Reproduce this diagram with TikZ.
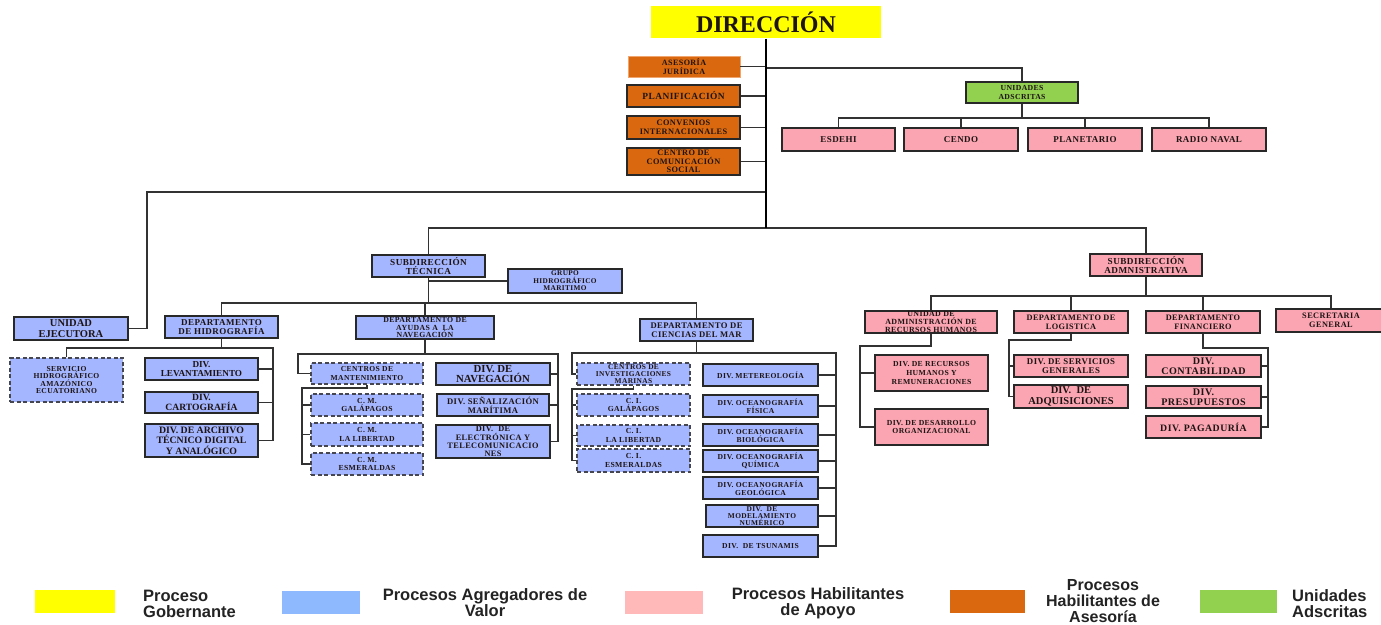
\documentclass[tikz,border=0pt]{standalone}
\usepackage{fontspec}
\setmainfont{Liberation Serif}
\newfontfamily\boxserif[LetterSpace=5]{Liberation Serif}
\newfontfamily\legfont{Liberation Sans}
\definecolor{ylw}{RGB}{255,255,0}
\definecolor{orf}{RGB}{217,104,14}
\definecolor{orb}{RGB}{240,165,110}
\definecolor{grf}{RGB}{146,208,80}
\definecolor{pkf}{RGB}{250,165,177}
\definecolor{blf}{RGB}{164,182,255}
\definecolor{lgbl}{RGB}{142,185,255}
\definecolor{lgpk}{RGB}{255,185,185}
\definecolor{bord}{RGB}{40,40,40}
\definecolor{bordg}{RGB}{70,70,80}
\definecolor{lineg}{RGB}{50,50,50}
\definecolor{txt}{RGB}{30,20,20}
\definecolor{legt}{RGB}{35,35,35}
\tikzset{
  base/.style={rectangle, draw=bord, line width=1.2pt, inner sep=0pt, align=center, text=txt},
  bluebox/.style={base, fill=blf},
  dashbox/.style={base, fill=blf, draw=bordg, dash pattern=on 4pt off 2.5pt},
  pinkbox/.style={base, fill=pkf},
  orbox/.style={base, fill=orf},
  grbox/.style={base, fill=grf},
  fs/.style 2 args={font=\boxserif\bfseries\fontsize{#1}{#2}\selectfont},
  fn/.style 2 args={font=\bfseries\fontsize{#1}{#2}\selectfont},
  conn/.style={draw=lineg, line width=1.4pt},
  trunk/.style={draw=black, line width=2.4pt},
  legbox/.style={rectangle, draw=none, inner sep=0pt},
  legtext/.style={font=\legfont\bfseries\fontsize{16.5}{16}\selectfont, text=legt, align=center, inner sep=0pt}
}
\newcommand\BX[7]{\node[#6, minimum width={(#4-#2)*1pt}, minimum height={(#5-#3)*1pt}] (#1) at ({(#2+#4)/2},{(#3+#5)/2}) {#7};}
\begin{document}
\begin{tikzpicture}[x=1pt,y=-1pt]
\useasboundingbox (0,0) rectangle (1381,624);
\fill[white] (0,0) rectangle (1381,624);

% ---------- boxes ----------
\BX{dir}{651}{6}{881}{38}{base,draw=none,fill=ylw,fn={24}{26}}{DIRECCIÓN}
\BX{ase}{628}{56}{740}{77}{orbox,draw=orb,line width=0.8pt,fs={8.1}{8.6}}{ASESORÍA\\JURÍDICA}
\BX{planif}{627}{85}{740}{107}{orbox,fs={9.4}{9.5}}{PLANIFICACIÓN}
\BX{conv}{627}{116}{740}{139}{orbox,fs={8.3}{8.8}}{CONVENIOS\\INTERNACIONALES}
\BX{ccs}{627}{148}{740}{175}{orbox,fs={8.3}{8.3}}{CENTRO DE\\COMUNICACIÓN\\SOCIAL}
\BX{ua}{966}{82}{1078}{103}{grbox,fs={7.7}{8.6}}{UNIDADES\\ADSCRITAS}
\BX{esdehi}{782}{128}{895}{151}{pinkbox,fs={9}{9}}{ESDEHI}
\BX{cendo}{904}{128}{1018}{151}{pinkbox,fs={9}{9}}{CENDO}
\BX{planet}{1028}{128}{1142}{151}{pinkbox,fs={9}{9}}{PLANETARIO}
\BX{radio}{1152}{128}{1266}{151}{pinkbox,fs={9}{9}}{RADIO NAVAL}

\BX{ue}{14}{317}{128}{340}{bluebox,fn={10.5}{10.5}}{UNIDAD\\EJECUTORA}
\BX{st}{372}{255}{485}{277}{bluebox,fs={9.2}{9.4}}{SUBDIRECCIÓN\\TÉCNICA}
\BX{grupo}{508}{269}{622}{293}{bluebox,fs={7.3}{7.4}}{GRUPO\\HIDROGRÁFICO\\MARITIMO}
\BX{hid}{165}{316}{278}{338}{bluebox,fs={9}{9.3}}{DEPARTAMENTO\\DE HIDROGRAFÍA}
\BX{ay}{356}{316}{494}{339}{bluebox,fs={7.8}{7.6}}{DEPARTAMENTO DE\\AYUDAS A \ LA\\NAVEGACIÓN}
\BX{cie}{640}{319}{753}{341}{bluebox,fs={8.6}{9}}{DEPARTAMENTO DE\\CIENCIAS DEL MAR}

\BX{serv}{10}{358}{123}{402}{dashbox,fs={7.6}{7.6}}{SERVICIO\\HIDROGRÁFICO\\AMAZÓNICO\\ECUATORIANO}
\BX{lev}{145}{358}{258}{380}{bluebox,fn={9.2}{9.8}}{DIV.\\LEVANTAMIENTO}
\BX{cart}{145}{392}{258}{413}{bluebox,fn={9.6}{9.8}}{DIV.\\CARTOGRAFÍA}
\BX{arch}{145}{424}{258}{457}{bluebox,fn={9.8}{10.3}}{DIV. DE ARCHIVO\\TÉCNICO DIGITAL\\Y ANALÓGICO}

\BX{cmant}{311}{363}{423}{384}{dashbox,fs={7.6}{8.2}}{CENTROS DE\\MANTENIMIENTO}
\BX{cmgal}{311}{394}{423}{416}{dashbox,fs={7.7}{8.6}}{C. M.\\GALÁPAGOS}
\BX{cmlib}{311}{423}{423}{446}{dashbox,fs={7.7}{8.6}}{C. M.\\LA LIBERTAD}
\BX{cmesm}{311}{453}{423}{475}{dashbox,fs={7.7}{8.6}}{C. M.\\ESMERALDAS}
\BX{nav}{436}{363}{550}{385}{bluebox,fn={10.8}{10.5}}{DIV. DE\\NAVEGACIÓN}
\BX{sen}{437}{394}{549}{416}{bluebox,fs={8.6}{9}}{DIV. SEÑALIZACIÓN\\MARÍTIMA}
\BX{elec}{436}{425}{550}{458}{bluebox,fs={8.3}{8.2}}{DIV. \ DE\\ELECTRÓNICA Y\\TELECOMUNICACIO\\NES}

\BX{cinv}{577}{363}{690}{385}{dashbox,fs={7.4}{7.3}}{CENTROS DE\\INVESTIGACIONES\\MARINAS}
\BX{cigal}{577}{394}{690}{416}{dashbox,fs={7.7}{8.6}}{C. I.\\GALÁPAGOS}
\BX{cilib}{577}{425}{690}{446}{dashbox,fs={7.7}{8.6}}{C. I.\\LA LIBERTAD}
\BX{ciesm}{577}{449}{690}{472}{dashbox,fs={7.7}{8.6}}{C. I.\\ESMERALDAS}
\BX{met}{703}{364}{818}{386}{bluebox,fs={7.6}{8}}{DIV. METEREOLOGÍA}
\BX{fis}{703}{395}{818}{417}{bluebox,fs={7.6}{8.4}}{DIV. OCEANOGRAFÍA\\FÍSICA}
\BX{bio}{703}{424}{818}{446}{bluebox,fs={7.6}{8.4}}{DIV. OCEANOGRAFÍA\\BIOLÓGICA}
\BX{qui}{703}{450}{818}{472}{bluebox,fs={7.6}{8.4}}{DIV. OCEANOGRAFÍA\\QUÍMICA}
\BX{geo}{703}{477}{818}{499}{bluebox,fs={7.6}{8.4}}{DIV. OCEANOGRAFÍA\\GEOLÓGICA}
\BX{mod}{706}{505}{818}{527}{bluebox,fs={7.4}{7.3}}{DIV. \ DE\\MODELAMIENTO\\NUMÉRICO}
\BX{tsu}{703}{535}{818}{557}{bluebox,fs={7.6}{8}}{DIV. \ DE TSUNAMIS}

\BX{sa}{1090}{254}{1202}{276}{pinkbox,fs={9.2}{9.3}}{SUBDIRECCIÓN\\ADMNISTRATIVA}
\BX{rrhh}{865}{311}{997}{333}{pinkbox,fs={7.9}{7.8}}{UNIDAD DE\\ADMINISTRACIÓN DE\\RECURSOS HUMANOS}
\BX{log}{1014}{311}{1128}{333}{pinkbox,fs={8.3}{9}}{DEPARTAMENTO DE\\LOGISTICA}
\BX{fin}{1146}{311}{1260}{333}{pinkbox,fs={8.3}{9}}{DEPARTAMENTO\\FINANCIERO}
\BX{sec}{1276}{309}{1386}{332}{pinkbox,fs={8.3}{9}}{SECRETARIA\\GENERAL}
\BX{divrh}{875}{355}{988}{391}{pinkbox,fs={7.7}{8.6}}{DIV. DE RECURSOS\\HUMANOS Y\\REMUNERACIONES}
\BX{desa}{875}{409}{988}{445}{pinkbox,fs={7.7}{8.6}}{DIV. DE DESARROLLO\\ORGANIZACIONAL}
\BX{serv2}{1014}{355}{1128}{377}{pinkbox,fs={8.8}{9}}{DIV. DE SERVICIOS\\GENERALES}
\BX{adq}{1014}{385}{1128}{408}{pinkbox,fn={10.5}{10.5}}{DIV. \ DE\\ADQUISICIONES}
\BX{cont}{1146}{355}{1261}{377}{pinkbox,fs={10.1}{10}}{DIV.\\CONTABILIDAD}
\BX{pres}{1146}{386}{1261}{408}{pinkbox,fs={10.1}{10}}{DIV.\\PRESUPUESTOS}
\BX{pag}{1146}{416}{1261}{438}{pinkbox,fs={9.8}{10}}{DIV. PAGADURÍA}

% ---------- junction coordinates ----------
\coordinate (jtop) at (766,68);
\coordinate (jue) at (766,192);
\coordinate (jue2) at (147,192);
\coordinate (jmain) at (766,228);
\coordinate (juab) at (1022,118);
\coordinate (jst) at (428.5,303);
\coordinate (jh) at (221.5,348);
\coordinate (jhr) at (273,348);
\coordinate (ja) at (425,354);
\coordinate (jal) at (298,354);
\coordinate (jar) at (558,354);
\coordinate (jcm) at (367,388);
\coordinate (jcml) at (302,388);
\coordinate (jc) at (696.5,353);
\coordinate (jcl) at (572,353);
\coordinate (jcr) at (836,353);
\coordinate (jci) at (633.5,389);
\coordinate (jcil) at (572,389);
\coordinate (js) at (1146,296);
\coordinate (jr) at (931,346);
\coordinate (jrl) at (860,346);
\coordinate (jl) at (1071,340);
\coordinate (jll) at (1009,340);
\coordinate (jf) at (1203,348);
\coordinate (jfr) at (1268,348);

% ---------- connectors ----------
\draw[conn] (ase.east) -- (ase.east -| dir.south);
\draw[conn] (planif.east) -- (planif.east -| dir.south);
\draw[conn] (conv.east) -- (conv.east -| dir.south);
\draw[conn] (ccs.east) -- (ccs.east -| dir.south);
\draw[conn] (jtop) -| (ua.north);
\draw[conn] (ua.south) -- (juab);
\draw[conn] (esdehi.north) |- (juab) -| (radio.north);
\draw[conn] (cendo.north) -- (cendo.north |- juab);
\draw[conn] (planet.north) -- (planet.north |- juab);
\draw[conn] (jue) -- (jue2) |- (ue.east);
\draw[conn] (st.north) |- (jmain) -| (sa.north);
\draw[conn] (st.south) -- (jst);
\draw[conn] (grupo.west) -- (grupo.west -| st.south);
\draw[conn] (hid.north) |- (jst) -| (cie.north);
\draw[conn] (ay.north) -- (ay.north |- jst);
% hidrografia
\draw[conn] (hid.south) -- (jh);
\draw[conn] (serv.north) |- (jh) -- (jhr) |- (arch.east);
\draw[conn] (lev.east) -- (lev.east -| jhr);
\draw[conn] (cart.east) -- (cart.east -| jhr);
% ayudas
\draw[conn] (ay.south) -- (ja);
\draw[conn] (cmant.west) -| (jal) -- (jar) |- (elec.east);
\draw[conn] (nav.east) -- (nav.east -| jar);
\draw[conn] (sen.east) -- (sen.east -| jar);
\draw[conn] (cmant.south) -- (jcm) -- (jcml) |- (cmesm.west);
\draw[conn] (cmgal.west) -- (cmgal.west -| jcml);
\draw[conn] (cmlib.west) -- (cmlib.west -| jcml);
% ciencias
\draw[conn] (cie.south) -- (jc);
\draw[conn] (cinv.west) -| (jcl) -- (jcr) |- (tsu.east);
\foreach \n in {met,fis,bio,qui,geo,mod}{\draw[conn] (\n.east) -- (\n.east -| jcr);}
\draw[conn] (cinv.south) -- (jci) -- (jcil) |- (ciesm.west);
\draw[conn] (cigal.west) -- (cigal.west -| jcil);
\draw[conn] (cilib.west) -- (cilib.west -| jcil);
% administrativa
\draw[conn] (sa.south) -- (js);
\draw[conn] (rrhh.north) |- (js) -| (sec.north);
\draw[conn] (log.north) -- (log.north |- js);
\draw[conn] (fin.north) -- (fin.north |- js);
\draw[conn] (rrhh.south) -- (jr) -- (jrl) |- (desa.west);
\draw[conn] (divrh.west) -- (divrh.west -| jrl);
\draw[conn] (log.south) -- (jl) -- (jll) |- (adq.west);
\draw[conn] (serv2.west) -- (serv2.west -| jll);
\draw[conn] (fin.south) -- (jf) -- (jfr) |- (pag.east);
\draw[conn] (cont.east) -- (cont.east -| jfr);
\draw[conn] (pres.east) -- (pres.east -| jfr);
% trunk
\draw[trunk] (dir.south) -- (jmain);

% ---------- legend ----------
\BX{lg1}{35}{590}{115}{613}{legbox,fill=ylw}{}
\BX{lg2}{282}{591}{360}{614}{legbox,fill=lgbl}{}
\BX{lg3}{625}{591}{703}{614}{legbox,fill=lgpk}{}
\BX{lg4}{950}{590}{1025}{613}{legbox,fill=orf}{}
\BX{lg5}{1200}{590}{1277}{613}{legbox,fill=grf}{}
\node[legtext, align=left, anchor=west] (lg1t) at (143,604) {Proceso\\Gobernante};
\node[legtext] (lg2t) at (485,603) {Procesos Agregadores de\\Valor};
\node[legtext] (lg3t) at (818,603.5) {Procesos Habilitantes\\de Apoyo};
\node[legtext, font=\legfont\bfseries\fontsize{16}{15.6}\selectfont] (lg4t) at (1103,601) {Procesos\\Habilitantes de\\Asesoría};
\node[legtext, align=left, anchor=west] (lg5t) at (1292,604) {Unidades\\Adscritas};
\end{tikzpicture}
\end{document}
